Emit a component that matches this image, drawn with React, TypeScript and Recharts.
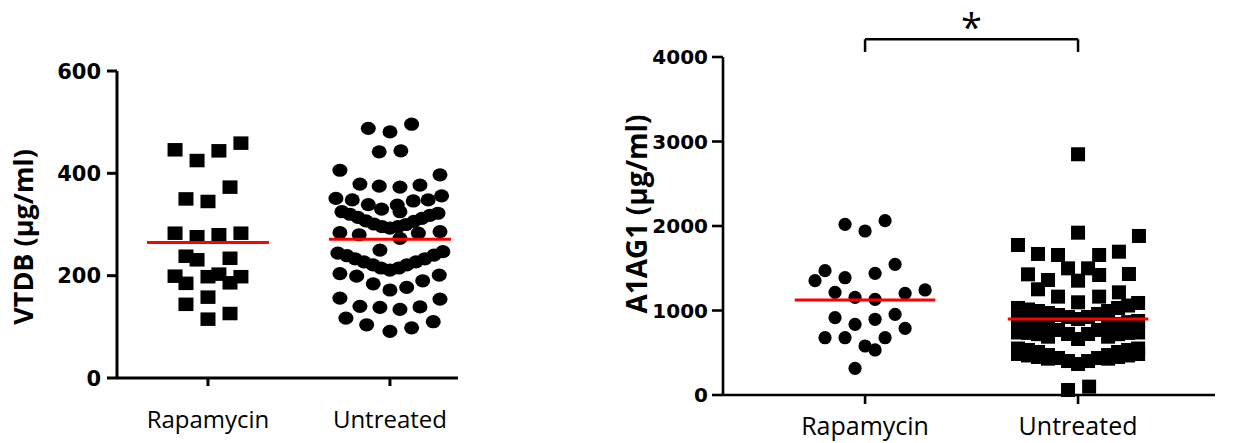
import React from 'react';
import { ScatterChart, Scatter, XAxis, YAxis, ReferenceLine } from 'recharts';

// ---------- shared ----------
const groups = ['Rapamycin', 'Untreated'];

// ---------- VTDB (left panel) ----------
const vtdbTicks = [0, 200, 400, 600];
const vtdbRapaValues = [446, 425, 444, 459, 373, 350, 345, 283, 276, 280, 283, 238, 231, 234, 199, 185, 198, 203, 198, 186, 144, 158, 115, 126];
const vtdbRapaJitter = [-0.181, -0.06, 0.06, 0.181, 0.121, -0.121, 0, -0.181, -0.06, 0.06, 0.181, -0.121, -0.06, 0.121, -0.181, -0.121, 0, 0.06, 0.181, 0.121, -0.121, 0, 0, 0.121];
const vtdbUntrValues = [
  488, 481, 496,
  442, 444,
  406, 397,
  379, 375, 373, 377,
  351, 348, 339, 330, 338, 325, 346, 348, 356,
  325, 320, 314, 307, 301, 296, 293, 296, 300, 306, 312, 318, 322,
  284, 280, 273, 283, 286,
  250,
  244, 239, 233, 227, 221, 215, 211, 215, 221, 227, 233, 240, 247,
  204, 199, 184, 172, 177, 190, 201,
  156, 140, 138, 134, 139, 154,
  117, 104, 91, 98, 110,
];
const vtdbUntrJitter = [
  -0.119, 0, 0.119,
  -0.059, 0.06,
  -0.275, 0.275,
  -0.165, -0.059, 0.055, 0.165,
  -0.297, -0.207, -0.119, -0.046, 0.04, 0.055, 0.128, 0.21, 0.284,
  -0.264, -0.22, -0.176, -0.132, -0.088, -0.044, 0, 0.044, 0.088, 0.132, 0.176, 0.22, 0.264,
  -0.275, -0.169, 0.055, 0.156, 0.275,
  -0.055,
  -0.286, -0.236, -0.192, -0.143, -0.093, -0.049, 0, 0.049, 0.093, 0.143, 0.192, 0.242, 0.291,
  -0.275, -0.183, -0.092, 0, 0.092, 0.18, 0.271,
  -0.275, -0.165, -0.055, 0.055, 0.165, 0.275,
  -0.242, -0.128, 0, 0.119, 0.238,
];
const vtdbMedians = [265, 271];

// ---------- A1AG1 (right panel) ----------
const a1agTicks = [0, 1000, 2000, 3000, 4000];
const a1agRapaValues = [2020, 1941, 2063, 1471, 1353, 1388, 1440, 1546, 1215, 1156, 1132, 1203, 1243, 915, 836, 896, 955, 789, 678, 678, 580, 533, 678, 316];
const a1agRapaJitter = [-0.094, 0, 0.094, -0.188, -0.235, -0.094, 0.047, 0.141, -0.141, -0.047, 0.047, 0.188, 0.282, -0.141, -0.047, 0.047, 0.141, 0.188, -0.188, -0.094, 0, 0.047, 0.094, -0.047];
const a1agUntrValues = [
  2849, 1921, 1882, 1775, 1669, 1657, 1657, 1696,
  1428, 1361, 1499, 1353, 1499, 1420, 1432,
  1251, 1164, 1097, 1164, 1215,
  59, 99,
  1030, 1012, 994, 970, 947, 923, 899, 923, 959, 994, 1030, 1059, 1089,
  876, 862, 840, 811, 769, 722, 663, 722, 769, 811, 840, 862, 876,
  740, 735, 720, 690, 690, 720, 735, 740,
  550, 533, 509, 473, 438, 402, 367, 402, 438, 473, 509, 533, 550,
  485, 468, 450, 430, 430, 450, 468, 485,
];
const a1agUntrJitter = [
  0, 0, 0.286, -0.282, -0.188, -0.094, 0.099, 0.192,
  -0.235, -0.141, -0.047, 0, 0.047, 0.099, 0.239,
  -0.188, -0.094, 0, 0.099, 0.192,
  -0.047, 0.052,
  -0.282, -0.235, -0.188, -0.141, -0.094, -0.047, 0, 0.047, 0.094, 0.141, 0.188, 0.235, 0.282,
  -0.282, -0.235, -0.188, -0.141, -0.094, -0.047, 0, 0.047, 0.094, 0.141, 0.188, 0.235, 0.282,
  -0.282, -0.235, -0.188, -0.141, 0.141, 0.188, 0.235, 0.282,
  -0.282, -0.235, -0.188, -0.141, -0.094, -0.047, 0, 0.047, 0.094, 0.141, 0.188, 0.235, 0.282,
  -0.282, -0.235, -0.188, -0.141, 0.141, 0.188, 0.235, 0.282,
];
const a1agMedians = [1124, 899];
const a1agBracket = { from: 1, to: 2, top: 4210, leg: 4060, label: '*' };

// ---------- helpers ----------
const toPoints = (group: number, values: number[], jitter: number[]) =>
  values.map((y, i) => ({ x: group + jitter[i], y }));

const medianSegment = (group: number, value: number, half: number) => [
  { x: group - half, y: value },
  { x: group + half, y: value },
];

const squareShape = (w: number, h: number) => (p: any) => (
  <rect x={p.cx - w / 2} y={p.cy - h / 2} width={w} height={h} fill="#000" />
);
const ellipseShape = (rx: number, ry: number) => (p: any) => (
  <ellipse cx={p.cx} cy={p.cy} rx={rx} ry={ry} fill="#000" />
);
const noShape = () => <g />;

const makeYTick = (fontSize: number) => (p: any) => (
  <text
    x={p.x}
    y={p.y}
    dy="0.36em"
    textAnchor="end"
    fontFamily="DejaVu Sans"
    fontWeight="bold"
    fontSize={fontSize}
    fill="#000"
  >
    {p.payload.value}
  </text>
);

const makeXTick = (fontSize: number, baseline: number) => (p: any) => (
  <text x={p.x} y={p.y + baseline} textAnchor="middle" fontFamily="Open Sans" fontSize={fontSize} fill="#000">
    {groups[Math.round(p.payload.value) - 1]}
  </text>
);

const makeTitle = (text: string, x: number, y: number, fontSize: number) => () => (
  <text
    x={x}
    y={y}
    transform={`rotate(-90 ${x} ${y})`}
    textAnchor="middle"
    fontFamily="Open Sans"
    fontWeight="bold"
    fontSize={fontSize}
    fill="#000"
  >
    {text}
  </text>
);

const axisStroke = { stroke: '#000', strokeWidth: 3 };
const axisStrokeR = { stroke: '#000', strokeWidth: 2.6 };
const medianLine = { stroke: '#ff0000', strokeWidth: 3 };

export default function App() {
  return (
    <div style={{ position: 'absolute', left: 0, top: 0, width: 1233, height: 443, background: '#fff' }}>
      {/* Left panel */}
      <div style={{ position: 'absolute', left: 0, top: 0 }}>
        <ScatterChart width={470} height={443} margin={{ top: 71, right: 12, bottom: 0, left: 0 }}>
          <XAxis
            type="number"
            dataKey="x"
            domain={[0.5, 2.374]}
            ticks={[1, 2]}
            allowDataOverflow
            height={65}
            tickSize={8}
            axisLine={axisStroke}
            tickLine={axisStroke}
            tick={makeXTick(24, 40)}
          />
          <YAxis
            type="number"
            dataKey="y"
            domain={[0, 600]}
            ticks={vtdbTicks}
            width={117}
            tickSize={10}
            tickMargin={6}
            axisLine={axisStroke}
            tickLine={axisStroke}
            tick={makeYTick(21)}
            label={makeTitle('VTDB (µg/ml)', 33, 237, 27)}
          />
          <Scatter data={toPoints(1, vtdbRapaValues, vtdbRapaJitter)} shape={squareShape(15, 13.5)} isAnimationActive={false} />
          <Scatter data={toPoints(2, vtdbUntrValues, vtdbUntrJitter)} shape={ellipseShape(7.5, 6.6)} isAnimationActive={false} />
          {vtdbMedians.map((m, i) => (
            <Scatter
              key={`m${i}`}
              data={medianSegment(i + 1, m, 0.335)}
              line={medianLine}
              shape={noShape}
              isAnimationActive={false}
            />
          ))}
        </ScatterChart>
      </div>

      {/* Right panel */}
      <div style={{ position: 'absolute', left: 600, top: 0 }}>
        <ScatterChart width={633} height={443} margin={{ top: 57, right: 18, bottom: 0, left: 0 }}>
          <XAxis
            type="number"
            dataKey="x"
            domain={[0.333, 2.643]}
            ticks={[1, 2]}
            allowDataOverflow
            height={48}
            tickSize={9}
            axisLine={axisStrokeR}
            tickLine={axisStrokeR}
            tick={makeXTick(25, 29)}
          />
          <YAxis
            type="number"
            dataKey="y"
            domain={[0, 4000]}
            ticks={a1agTicks}
            width={123}
            tickSize={11}
            tickMargin={4}
            axisLine={axisStrokeR}
            tickLine={axisStrokeR}
            tick={makeYTick(20)}
            label={makeTitle('A1AG1 (µg/ml)', 47, 214, 28)}
          />
          <Scatter data={toPoints(1, a1agRapaValues, a1agRapaJitter)} shape={ellipseShape(6.6, 6.6)} isAnimationActive={false} />
          <Scatter data={toPoints(2, a1agUntrValues, a1agUntrJitter)} shape={squareShape(14, 14)} isAnimationActive={false} />
          {a1agMedians.map((m, i) => (
            <Scatter
              key={`m${i}`}
              data={medianSegment(i + 1, m, 0.33)}
              line={medianLine}
              shape={noShape}
              isAnimationActive={false}
            />
          ))}
          <ReferenceLine
            segment={[{ x: a1agBracket.from, y: a1agBracket.top }, { x: a1agBracket.to, y: a1agBracket.top }]}
            stroke="#000"
            strokeWidth={2.5}
            ifOverflow="visible"
            label={(p: any) => {
              const vb = p.viewBox || {};
              const cx = (vb.x ?? 0) + (vb.width ?? 0) / 2;
              return (
                <text x={cx} y={(vb.y ?? 0) + 2} textAnchor="middle" fontFamily="Open Sans" fontSize={38} fill="#000">
                  {a1agBracket.label}
                </text>
              );
            }}
          />
          <ReferenceLine
            segment={[{ x: a1agBracket.from, y: a1agBracket.top }, { x: a1agBracket.from, y: a1agBracket.leg }]}
            stroke="#000"
            strokeWidth={2.5}
            ifOverflow="visible"
          />
          <ReferenceLine
            segment={[{ x: a1agBracket.to, y: a1agBracket.top }, { x: a1agBracket.to, y: a1agBracket.leg }]}
            stroke="#000"
            strokeWidth={2.5}
            ifOverflow="visible"
          />
        </ScatterChart>
      </div>
    </div>
  );
}
